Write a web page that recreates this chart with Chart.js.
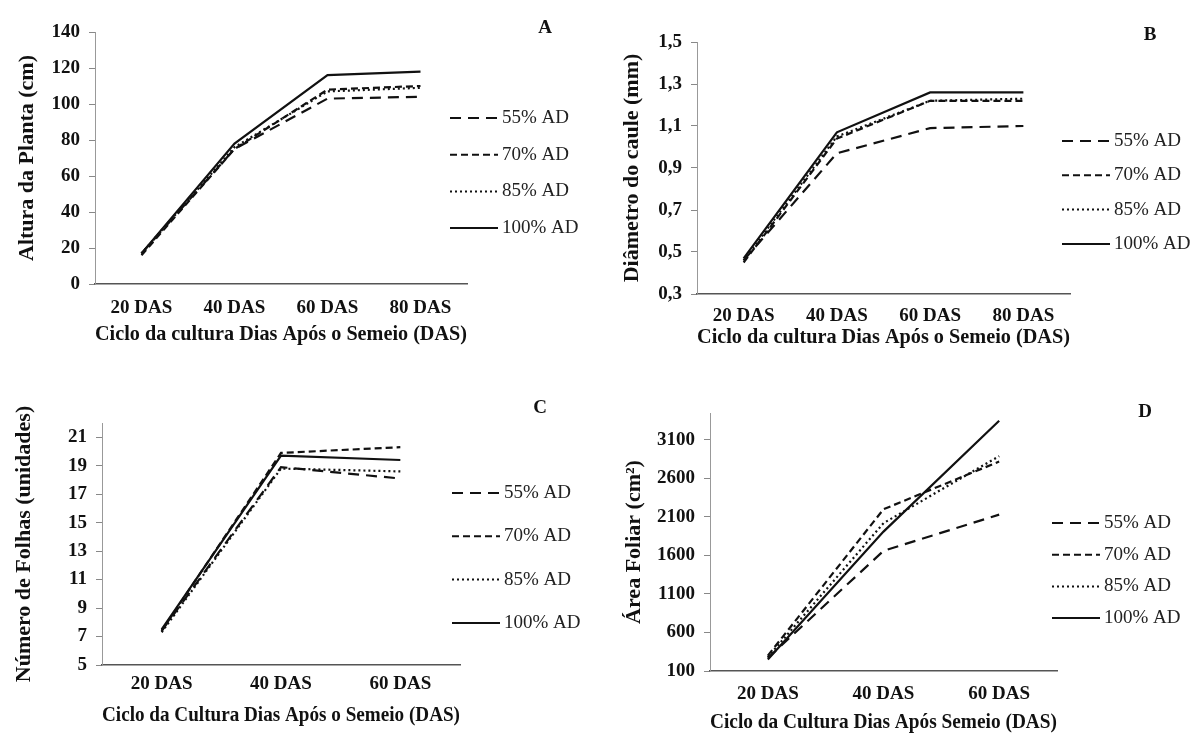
<!DOCTYPE html>
<html lang="pt">
<head>
<meta charset="utf-8">
<title>Crescimento por lâmina de água</title>
<script src="https://cdn.jsdelivr.net/npm/chart.js@4.4.1/dist/chart.umd.min.js"></script>
<style>
  body { margin: 0; background: #fff; }
  .page { position: relative; width: 1190px; height: 741px; overflow: hidden; background: #fff; }
  .panel { position: absolute; }
</style>
</head>
<body>
<div class="page">
  <div class="panel" style="left:0;top:0;width:595px;height:360px"><canvas id="chart-a"></canvas></div>
  <div class="panel" style="left:595px;top:0;width:595px;height:360px"><canvas id="chart-b"></canvas></div>
  <div class="panel" style="left:0;top:370px;width:595px;height:371px"><canvas id="chart-c"></canvas></div>
  <div class="panel" style="left:595px;top:370px;width:595px;height:371px"><canvas id="chart-d"></canvas></div>
</div>
<script>
//Categories and series names
const daysFour = ['20 DAS', '40 DAS', '60 DAS', '80 DAS'];
const daysThree = ['20 DAS', '40 DAS', '60 DAS'];
const seriesNames = ['55% AD', '70% AD', '85% AD', '100% AD'];

//A - Altura da planta (cm)
const heightAD55 = [17, 75, 103, 104];
const heightAD70 = [16, 75, 108, 110];
const heightAD85 = [17, 76, 107, 109];
const heightAD100 = [17, 78, 116, 118];
const heightTicks = [0, 20, 40, 60, 80, 100, 120, 140];

//B - Diametro do caule (mm)
const stemAD55 = [0.46, 0.97, 1.09, 1.10];
const stemAD70 = [0.45, 1.04, 1.22, 1.22];
const stemAD85 = [0.46, 1.05, 1.22, 1.23];
const stemAD100 = [0.47, 1.07, 1.26, 1.26];
const stemTicks = [0.3, 0.5, 0.7, 0.9, 1.1, 1.3, 1.5];

//C - Numero de folhas
const leafAD55 = [7.4, 18.9, 18.1];
const leafAD70 = [7.4, 19.9, 20.3];
const leafAD85 = [7.3, 18.8, 18.6];
const leafAD100 = [7.5, 19.7, 19.4];
const leafTicks = [5, 7, 9, 11, 13, 15, 17, 19, 21];

//D - Area foliar (cm2)
const areaAD55 = [270, 1660, 2130];
const areaAD70 = [300, 2200, 2820];
const areaAD85 = [280, 2020, 2890];
const areaAD100 = [250, 1910, 3350];
const areaTicks = [100, 600, 1100, 1600, 2100, 2600, 3100];

//Line style for each treatment (same order as seriesNames)
const lineDashes = [[11, 7], [7, 4], [2, 3], []];

Chart.defaults.font.family = '"Liberation Serif", "Times New Roman", serif';
Chart.defaults.color = '#111';

//Draws the legend at the right of the plot and the panel letter
const sideLegend = {
  id: 'sideLegend',
  afterDraw(chart, args, opts) {
    const ctx = chart.ctx;
    ctx.save();
    chart.data.datasets.forEach((ds, i) => {
      const y = opts.y + i * opts.gap;
      ctx.strokeStyle = '#111';
      ctx.lineWidth = 2;
      ctx.setLineDash(ds.borderDash);
      ctx.beginPath();
      ctx.moveTo(opts.x, y);
      ctx.lineTo(opts.x + 48, y);
      ctx.stroke();
      ctx.setLineDash([]);
      ctx.fillStyle = '#222';
      ctx.font = '19px "Liberation Serif", serif';
      ctx.textBaseline = 'middle';
      ctx.fillText(ds.label, opts.x + 52, y);
    });
    ctx.font = 'bold 19px "Liberation Serif", serif';
    ctx.fillStyle = '#111';
    ctx.textAlign = 'center';
    ctx.fillText(opts.letter, opts.letterX, opts.letterY);
    ctx.restore();
  },
};

function makePanel(id, cfg) {
  const box = cfg.box;
  const datasets = cfg.series.map((values, i) => ({
    label: seriesNames[i],
    data: values,
    borderColor: '#111',
    borderWidth: 2.2,
    borderDash: lineDashes[i],
    pointRadius: 0,
    tension: 0,
    fill: false,
  }));

  return new Chart(document.getElementById(id), {
    type: 'line',
    data: { labels: cfg.labels, datasets: datasets },
    plugins: [sideLegend],
    options: {
      responsive: true,
      maintainAspectRatio: false,
      animation: false,
      layout: {
        padding: { left: box.padLeft, right: box.padRight, top: box.top, bottom: box.padBottom },
      },
      plugins: {
        legend: { display: false },
        tooltip: { enabled: false },
        sideLegend: cfg.legend,
      },
      scales: {
        x: {
          type: 'category',
          offset: true,
          grid: { display: false, drawTicks: false },
          border: { display: true, color: '#555', width: 1.5 },
          ticks: {
            font: { size: 19, weight: 'bold' },
            padding: box.xPad,
            maxRotation: 0,
            autoSkip: false,
          },
          title: {
            display: true,
            text: cfg.xTitle,
            font: { size: 21, weight: 'bold' },
            padding: { top: 4, bottom: 4 },
          },
          afterFit: (scale) => {
            scale.height = box.xHeight;
          },
        },
        y: {
          type: 'linear',
          min: cfg.min,
          max: cfg.max,
          grid: { drawOnChartArea: false, drawTicks: true, tickLength: 6, color: '#888' },
          border: { display: true, color: '#999', width: 1 },
          ticks: {
            font: { size: 19, weight: 'bold' },
            padding: 9,
            callback: cfg.format,
          },
          title: {
            display: true,
            text: cfg.yTitle,
            font: { size: 22, weight: 'bold' },
            padding: { top: 4, bottom: 4 },
          },
          afterBuildTicks: (scale) => {
            scale.ticks = cfg.ticks.map((v) => ({ value: v }));
          },
          afterFit: (scale) => {
            scale.width = box.yWidth;
          },
        },
      },
    },
  });
}

const plainNumber = (v) => String(v);
const commaNumber = (v) => v.toFixed(1).replace('.', ',');

makePanel('chart-a', {
  labels: daysFour,
  series: [heightAD55, heightAD70, heightAD85, heightAD100],
  ticks: heightTicks,
  min: 0,
  max: 140,
  format: plainNumber,
  yTitle: 'Altura da Planta (cm)',
  xTitle: 'Ciclo da cultura Dias Após o Semeio (DAS)',
  box: { padLeft: 10, yWidth: 85, top: 32, padRight: 128, xHeight: 67, padBottom: 9, xPad: 13 },
  legend: { x: 450, y: 118, gap: 36.7, letter: 'A', letterX: 545, letterY: 28 },
});

makePanel('chart-b', {
  labels: daysFour,
  series: [stemAD55, stemAD70, stemAD85, stemAD100],
  ticks: stemTicks,
  min: 0.3,
  max: 1.5,
  format: commaNumber,
  yTitle: 'Diâmetro do caule (mm)',
  xTitle: 'Ciclo da cultura Dias Após o Semeio (DAS)',
  box: { padLeft: 20, yWidth: 82, top: 42, padRight: 120, xHeight: 60, padBottom: 6, xPad: 11 },
  legend: { x: 467, y: 141, gap: 34.3, letter: 'B', letterX: 555, letterY: 35 },
});

makePanel('chart-c', {
  labels: daysThree,
  series: [leafAD55, leafAD70, leafAD85, leafAD100],
  ticks: leafTicks,
  min: 5,
  max: 22,
  format: plainNumber,
  yTitle: 'Número de Folhas (unidades)',
  xTitle: 'Ciclo da Cultura Dias Após o Semeio (DAS)',
  box: { padLeft: 7, yWidth: 95, top: 53, padRight: 135, xHeight: 67, padBottom: 9, xPad: 8 },
  legend: { x: 452, y: 123, gap: 43.3, letter: 'C', letterX: 540, letterY: 38 },
});

makePanel('chart-d', {
  labels: daysThree,
  series: [areaAD55, areaAD70, areaAD85, areaAD100],
  ticks: areaTicks,
  min: 100,
  max: 3450,
  format: plainNumber,
  yTitle: 'Área Foliar (cm²)',
  xTitle: 'Ciclo da Cultura Dias Após Semeio (DAS)',
  box: { padLeft: 22, yWidth: 93, top: 43, padRight: 133, xHeight: 68, padBottom: 2, xPad: 12 },
  legend: { x: 457, y: 153, gap: 31.7, letter: 'D', letterX: 550, letterY: 42 },
});
</script>
</body>
</html>
